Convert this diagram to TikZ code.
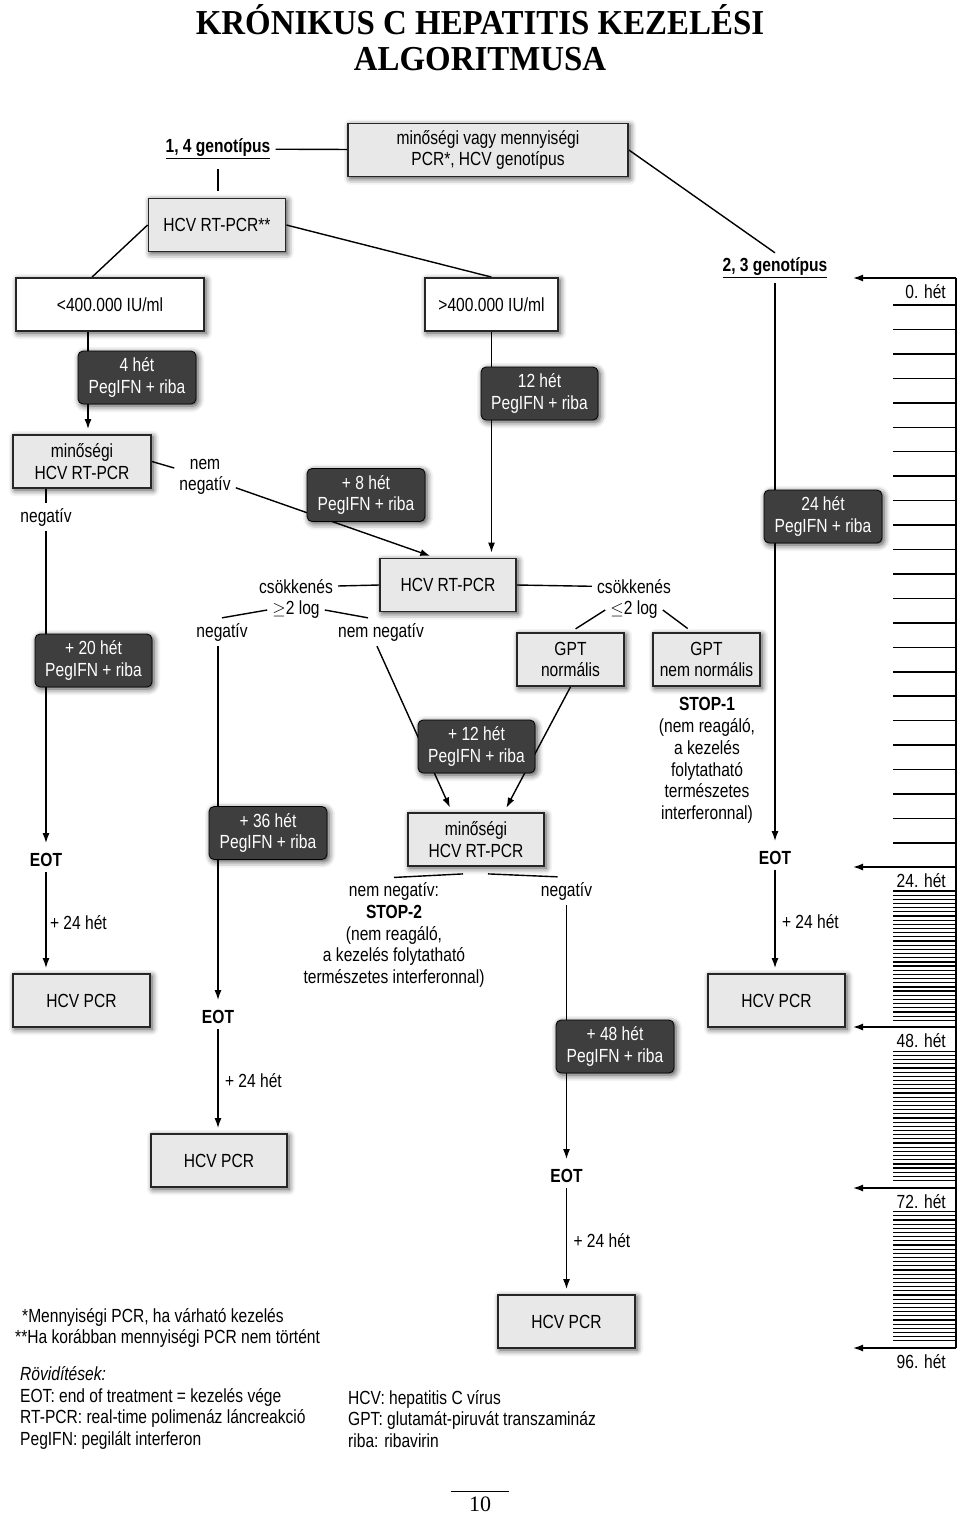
\documentclass[tikz,border=0pt]{standalone}
\usepackage{fontspec}
\setmainfont{Liberation Sans}[FakeStretch=0.82]
\newfontfamily\titlefont{Liberation Serif}[FakeStretch=0.94]
\newfontfamily\pagefont{Liberation Serif}
\usetikzlibrary{arrows.meta,backgrounds,shadows.blur}
\definecolor{boxGray}{HTML}{E8E8E8}
\definecolor{darkGray}{HTML}{3E3E3E}
\newcommand\txtsize{\fontsize{19}{21.7}\selectfont}

\begin{document}
\begin{tikzpicture}[
    x=1pt, y=-1pt,
    font=\txtsize,
    boxshadow/.style={blur shadow={shadow xshift=2pt, shadow yshift=-2pt, shadow blur radius=6pt, shadow opacity=75}},
    lightbox/.style={draw=black!85, line width=1.8pt, fill=boxGray, minimum height=53pt, align=center, boxshadow},
    whitebox/.style={lightbox, fill=white},
    darkbox/.style={draw=black, line width=0.8pt, fill=darkGray, text=white, rounded corners=5pt, minimum width=118pt, minimum height=53pt, align=center, boxshadow},
    lbl/.style={align=center, inner sep=5pt},
    boldlbl/.style={lbl, font=\txtsize\bfseries},
    conn/.style={line width=1.4pt},
    arr/.style={-{Latex[length=10pt,width=7pt]}, line width=1.4pt, shorten >=5pt},
    tlarr/.style={-{Latex[length=10pt,width=7pt]}, line width=1.4pt},
    tick/.style={line width=1.5pt},
    densetick/.style={line width=1.2pt},
]
\useasboundingbox (0,0) rectangle (960,1515);

% Title
\node[font=\titlefont\fontsize{35}{36}\selectfont\bfseries, align=center] (title) at (480,38) {KRÓNIKUS C HEPATITIS KEZELÉSI\\ALGORITMUSA};

% Start
\node[lightbox, minimum width=280pt] (pcrgeno) at (488,150) {minőségi vagy mennyiségi\\PCR*, HCV genotípus};
\node[boldlbl] (g14) at (218,149) {\underline{1, 4 genotípus}};
\node[boldlbl] (g23) at (775,268) {\underline{2, 3 genotípus}};
\node[lightbox, minimum width=137pt] (rtpcrA) at (217,225) {HCV RT-PCR**};
\node[whitebox, minimum width=188pt] (low) at (110,304.5) {<400.000 IU/ml};
\node[whitebox, minimum width=133pt] (high) at (491.5,304.5) {>400.000 IU/ml};

% Treatment boxes
\node[darkbox] (w4) at (137,377.5) {4 hét\\PegIFN + riba};
\node[darkbox, minimum width=117pt] (w12) at (539.5,393.5) {12 hét\\PegIFN + riba};
\node[darkbox] (w8) at (366,495) {+ 8 hét\\PegIFN + riba};
\node[darkbox] (w24) at (823,516.5) {24 hét\\PegIFN + riba};
\node[darkbox, minimum width=117pt] (w20) at (93.5,660.5) {+ 20 hét\\PegIFN + riba};
\node[darkbox, minimum width=117pt] (w12b) at (476.5,746.5) {+ 12 hét\\PegIFN + riba};
\node[darkbox] (w36) at (268,833) {+ 36 hét\\PegIFN + riba};
\node[darkbox] (w48) at (615,1046.5) {+ 48 hét\\PegIFN + riba};

% Tests
\node[lightbox, minimum width=138pt] (qualA) at (82,461.5) {minőségi\\HCV RT-PCR};
\node[lightbox, minimum width=136pt] (rtpcrB) at (448,585) {HCV RT-PCR};
\node[lightbox, minimum width=107pt] (gptA) at (570.5,659.5) {GPT\\normális};
\node[lightbox, minimum width=107pt] (gptB) at (706.5,659.5) {GPT\\nem normális};
\node[lightbox, minimum width=136pt] (qualB) at (476,839.5) {minőségi\\HCV RT-PCR};
\node[lightbox, minimum width=137pt] (pcrA) at (81.5,1000.5) {HCV PCR};
\node[lightbox, minimum width=136pt] (pcrB) at (219,1160.5) {HCV PCR};
\node[lightbox, minimum width=137pt] (pcrC) at (566.5,1321.5) {HCV PCR};
\node[lightbox, minimum width=137pt] (pcrD) at (776.5,1000.5) {HCV PCR};

% Branch labels
\node[lbl] (nemnegA) at (205,477) {nem\\negatív};
\node[lbl] (negA) at (46,517) {negatív};
\node[lbl] (csokA) at (296,587) {csökkenés};
\node[lbl] (logA) at (296,610) {$\geq$2 log};
\node[lbl] (csokB) at (634,587) {csökkenés};
\node[lbl] (logB) at (634,610) {$\leq$2 log};
\node[lbl] (negB) at (222,632) {negatív};
\node[lbl] (nemnegB) at (381,632) {nem negatív};
\node[lbl] (stopA) at (707,760.5) {\textbf{STOP-1}\\(nem reagáló,\\a kezelés\\folytatható\\természetes\\interferonnal)};
\node[lbl] (stopB) at (394,935) {nem negatív:\\\textbf{STOP-2}\\(nem reagáló,\\a kezelés folytatható\\természetes interferonnal)};
\node[lbl] (negC) at (566.5,891) {negatív};

% End of treatment
\node[boldlbl] (eotA) at (46,860) {EOT};
\node[boldlbl] (eotB) at (218,1017) {EOT};
\node[boldlbl] (eotC) at (566.5,1176) {EOT};
\node[boldlbl] (eotD) at (775,858) {EOT};

% Paths
\begin{scope}[on background layer]
\draw[conn] (g14) -- (pcrgeno);
\draw[conn, shorten <=5pt, shorten >=7pt] (g14) -- (g14 |- rtpcrA.north);
\draw[conn] (pcrgeno.east) -- (g23.north);
\draw[conn] (rtpcrA.west) -- ([xshift=-18pt]low.north);
\draw[conn] (rtpcrA.east) -- (high.north);
\draw[arr] ([xshift=-22pt]low.south) -- ([xshift=-22pt]low.south |- qualA.north);
\draw[arr] (high.south) -- (high.south |- rtpcrB.north);
\draw[arr] (g23) -- (eotD);

% 1, 4 genotype, low viral load
\draw[conn] (qualA.east) -- (nemnegA);
\draw[arr] (nemnegA) -- ([xshift=-13pt]rtpcrB.north);
\draw[conn] (qualA.south -| negA) -- (negA);
\draw[arr] (negA) -- (eotA);

% week 12 decision
\draw[conn] (rtpcrB.west) -- (csokA);
\draw[conn] (logA.west) -- (negB.north);
\draw[conn] (logA.east) -- ([xshift=-13pt]nemnegB.north);
\draw[arr] (negB.south -| eotB) -- (eotB);
\draw[arr] ([xshift=-4pt]nemnegB.south) -- ([xshift=-24pt]qualB.north);
\draw[conn] (rtpcrB.east) -- (csokB);
\draw[conn, shorten >=6pt] (logB.west) -- (gptA.north);
\draw[conn, shorten >=6pt] (logB.east) -- ([xshift=-14pt]gptB.north);
\draw[arr] (gptA.south) -- ([xshift=28pt]qualB.north);
\draw[conn] ([xshift=-13pt,yshift=-7pt]qualB.south) -- (stopB.north);
\draw[conn] ([xshift=12pt,yshift=-7pt]qualB.south) -- ([xshift=-9pt]negC.north);
\draw[arr] (negC) -- (eotC);

% Follow-up
\draw[arr] (eotA) -- (eotA |- pcrA.north) node[midway, right] {+ 24 hét};
\draw[arr] (eotB) -- (eotB |- pcrB.north) node[midway, right, xshift=3pt] {+ 24 hét};
\draw[arr] (eotC) -- (eotC |- pcrC.north) node[midway, right, xshift=3pt] {+ 24 hét};
\draw[arr] (eotD) -- (eotD |- pcrD.north) node[midway, right, xshift=3pt] {+ 24 hét};
\end{scope}

% Week scale
\draw[conn] (956,278) -- (956,1348);
\foreach \k in {0,...,22}
    \draw[tick] (893,{305+24.45*\k}) -- (956,{305+24.45*\k});
\foreach \s in {0,1,2}
    \foreach \k in {0,...,31}
        \draw[densetick] (893,{891+160.3*\s+4.17*\k}) -- (956,{891+160.3*\s+4.17*\k});
\foreach \y/\w in {278/0, 867/24, 1027/48, 1188/72, 1348/96} {
    \draw[tlarr] (956,\y) -- (853,\y);
    \node[lbl, anchor=east] at (951,{\y+14}) {\w. hét};
}

% Notes
\node[anchor=west, inner sep=0pt] (fnA) at (22,1317) {*Mennyiségi PCR, ha várható kezelés};
\node[anchor=west, inner sep=0pt] (fnB) at (15,1338) {**Ha korábban mennyiségi PCR nem történt};
\node[anchor=west, align=left, inner sep=0pt] (abbrL) at (20,1408) {\textit{Rövidítések:}\\EOT: end of treatment = kezelés vége\\RT-PCR: real-time polimenáz láncreakció\\PegIFN: pegilált interferon};
\node[anchor=west, align=left, inner sep=0pt] (abbrR) at (348,1419) {HCV: hepatitis C vírus\\GPT: glutamát-piruvát transzamináz\\riba: ribavirin};

% Page number
\node[font=\pagefont\fontsize{22}{24}\selectfont, minimum width=58pt, inner sep=5pt] (pg) at (480,1504) {10};
\draw[line width=1pt] (pg.north west) -- (pg.north east);

\end{tikzpicture}
\end{document}
